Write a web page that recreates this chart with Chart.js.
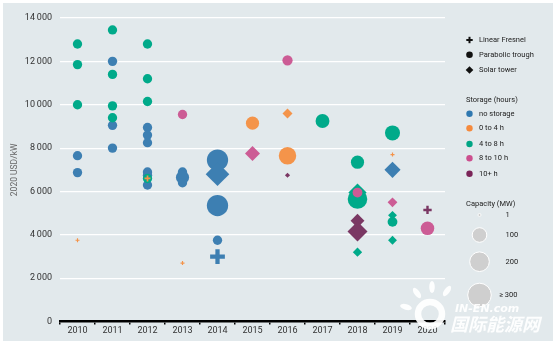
<!DOCTYPE html>
<html>
<head>
<meta charset="utf-8">
<script src="https://cdn.jsdelivr.net/npm/chart.js@4.4.1/dist/chart.umd.min.js"></script>
<style>
  body { margin: 0; background: #fff; }
  #wrap { position: relative; width: 560px; height: 343px; font-family: Roboto, "Open Sans", sans-serif; }
  #wrap canvas { position: absolute; left: 0; top: 0; }
  #ov { position: absolute; left: 0; top: 0; pointer-events: none; }
  .lg { position: absolute; font-size: 7.5px; color: #222; height: 10px; line-height: 10px; white-space: nowrap; }
  .wm { position: absolute; color: rgba(255,255,255,0.92); font-weight: bold; font-style: italic; white-space: nowrap; }
</style>
</head>
<body>
<div id="wrap">
  <canvas id="myChart"></canvas>
  <svg id="ov" width="560" height="343">
    <!-- technology markers -->
    <rect x="466.3" y="39" width="6.4" height="2" fill="#111"/>
    <rect x="468.5" y="36.8" width="2" height="6.4" fill="#111"/>
    <circle cx="469.5" cy="54.7" r="3.3" fill="#111"/>
    <polygon points="469.5,66.2 473.3,70 469.5,73.8 465.7,70" fill="#111"/>
    <!-- storage markers -->
    <circle cx="469.5" cy="113.7" r="3.2" fill="#2f78b0"/>
    <circle cx="469.5" cy="128.3" r="3.2" fill="#f58a3d"/>
    <circle cx="469.5" cy="144" r="3.2" fill="#00a584"/>
    <circle cx="469.5" cy="158.3" r="3.2" fill="#cc4f8e"/>
    <circle cx="469.5" cy="173.7" r="3.2" fill="#7a2458"/>
    <!-- capacity markers -->
    <circle cx="479.5" cy="215" r="1.5" fill="#cfcfcf" stroke="#fff" stroke-width="0.8"/>
    <circle cx="479.5" cy="235" r="7.3" fill="#cfcfcf" stroke="#fff" stroke-width="1"/>
    <circle cx="479.5" cy="261.7" r="9.8" fill="#cfcfcf" stroke="#fff" stroke-width="1"/>
    <circle cx="479.5" cy="295" r="11.8" fill="#cfcfcf" stroke="#fff" stroke-width="1"/>
    <!-- watermark logo -->
    <g fill="#fff" opacity="0.92">
      <circle cx="430" cy="314" r="12" fill="none" stroke="#fff" stroke-width="6.5"/>
      <ellipse cx="417" cy="293" rx="2.8" ry="6" transform="rotate(-35 417 293)"/>
      <ellipse cx="432" cy="287" rx="2.8" ry="6"/>
      <ellipse cx="447" cy="291" rx="2.8" ry="6" transform="rotate(35 447 291)"/>
      <ellipse cx="406" cy="307" rx="2.8" ry="6" transform="rotate(-75 406 307)"/>
    </g>
  </svg>
  <div class="lg" style="left:479px;top:35px">Linear Fresnel</div>
  <div class="lg" style="left:479px;top:49.7px">Parabolic trough</div>
  <div class="lg" style="left:479px;top:65px">Solar tower</div>
  <div class="lg" style="left:466px;top:95px">Storage (hours)</div>
  <div class="lg" style="left:479px;top:108.7px">no storage</div>
  <div class="lg" style="left:479px;top:123.3px">0 to 4 h</div>
  <div class="lg" style="left:479px;top:139px">4 to 8 h</div>
  <div class="lg" style="left:479px;top:153.3px">8 to 10 h</div>
  <div class="lg" style="left:479px;top:168.7px">10+ h</div>
  <div class="lg" style="left:466px;top:199px">Capacity (MW)</div>
  <div class="lg" style="left:505.5px;top:210px">1</div>
  <div class="lg" style="left:505.5px;top:230px">100</div>
  <div class="lg" style="left:505.5px;top:256.7px">200</div>
  <div class="lg" style="left:499px;top:290px">≥ 300</div>
  <div class="wm" style="left:455px;top:302px;font-size:11px;font-family:'DejaVu Sans',sans-serif">IN-EN.com</div>
  <div class="wm" style="left:450px;top:313px;font-size:18px;line-height:20px;font-family:'Noto Sans CJK SC',sans-serif">国际能源网</div>
</div>
<script>
const years = ['2010','2011','2012','2013','2014','2015','2016','2017','2018','2019','2020']
const yTicks = [0,2000,4000,6000,8000,10000,12000,14000]

// no storage
const noneYear = ['2010','2010','2011','2011','2011','2012','2012','2012','2012','2012','2012','2013','2013','2013','2014','2014','2014','2014','2014','2019']
const noneCost = [7650,6870,12000,9050,8000,8950,8600,8250,6900,6750,6300,6900,6650,6400,7450,6800,5350,3750,3000,7000]
const noneMW   = [50,50,50,50,50,50,50,50,50,50,50,50,100,50,260,320,260,50,125,150]
const noneTech = ['trough','trough','trough','trough','trough','trough','trough','trough','trough','trough','trough','trough','trough','trough','trough','tower','trough','trough','fresnel','tower']

// 0 to 4 h
const shortYear = ['2010','2012','2013','2015','2016','2016','2019']
const shortCost = [3750,6600,2700,9150,9600,7650,7700]
const shortMW   = [1,20,1,100,57,175,1]
const shortTech = ['fresnel','fresnel','fresnel','trough','tower','trough','fresnel']

// 4 to 8 h
const midYear = ['2010','2010','2010','2011','2011','2011','2011','2012','2012','2012','2012','2017','2018','2018','2018','2018','2019','2019','2019','2019']
const midCost = [12800,11850,10000,13450,11400,9950,9400,12800,11200,10150,6600,9250,7350,5950,5650,3200,8700,4900,4600,3750]
const midMW   = [50,50,50,50,50,50,50,50,50,50,50,110,100,190,220,50,130,45,55,45]
const midTech = ['trough','trough','trough','trough','trough','trough','trough','trough','trough','trough','trough','trough','trough','tower','trough','tower','trough','tower','trough','tower']

// 8 to 10 h
const longYear = ['2013','2015','2016','2018','2019','2020']
const longCost = [9550,7750,12050,5950,5500,4300]
const longMW   = [50,130,60,55,55,105]
const longTech = ['trough','tower','trough','trough','tower','trough']

// 10+ h
const xlYear = ['2016','2018','2018','2018','2020']
const xlCost = [6750,4650,4150,4500,5150]
const xlMW   = [15,110,230,10,40]
const xlTech = ['tower','tower','tower','tower','fresnel']

const shapes = { trough: 'circle', tower: 'rectRot', fresnel: 'cross' }

// marker radius from capacity
const rad = (mw)=> Math.max(2, 0.66*Math.sqrt(mw))

const makeSet = (label, color, yrs, cost, mw, tech, order)=>({
    label: label,
    order: order,
    data: yrs.map((y,i)=> ({ x: y, y: cost[i], r: rad(mw[i]) })),
    backgroundColor: color,
    borderColor: color,
    pointStyle: (ctx)=> shapes[tech[ctx.dataIndex]] || 'circle',
    borderWidth: (ctx)=> (tech[ctx.dataIndex] === 'fresnel' && ctx.raw) ? ctx.raw.r*0.58 : 0
})

const panelBg = {
    id: 'panelBg',
    beforeDraw(chart){
        const c = chart.ctx
        c.save()
        c.fillStyle = '#fff'
        c.fillRect(0,0,chart.width,chart.height)
        c.fillStyle = '#e2e9ec'
        c.fillRect(3,3,550,338)
        c.restore()
    }
}

const fmt = (v)=> v >= 1000 ? Math.floor(v/1000) + '\u2009' + String(v%1000).padStart(3,'0') : String(v)

const ctx = document.getElementById('myChart')

new Chart(ctx, {
    type: 'bubble',
    data: {
        labels: years,
        datasets: [
            makeSet('no storage', '#3d7fb2', noneYear, noneCost, noneMW, noneTech, 5),
            makeSet('0 to 4 h', '#f4944a', shortYear, shortCost, shortMW, shortTech, 2),
            makeSet('4 to 8 h', '#00aa8a', midYear, midCost, midMW, midTech, 4),
            makeSet('8 to 10 h', '#cc5c95', longYear, longCost, longMW, longTech, 3),
            makeSet('10+ h', '#7a3763', xlYear, xlCost, xlMW, xlTech, 1)
        ]
    },
    options: {
        responsive: true,
        maintainAspectRatio: false,
        animation: false,
        events: [],
        layout: { padding: { left: 3, right: 115, top: 18, bottom: 0 } },
        plugins: { legend: { display: false }, tooltip: { enabled: false } },
        scales: {
            x: {
                type: 'category',
                labels: years,
                offset: true,
                grid: { offset: true, drawOnChartArea: false, drawTicks: true, tickLength: 3, color: '#000', lineWidth: 1.5 },
                border: { display: true, color: '#000', width: 2.5 },
                ticks: { font: { family: 'Roboto', size: 9 }, color: '#333', padding: 1, maxRotation: 0 },
                afterFit: (s)=> { s.height = 21.4 }
            },
            y: {
                min: 0,
                max: 14000,
                afterBuildTicks: (s)=> { s.ticks = yTicks.map(v=> ({ value: v })) },
                grid: { color: '#fff', lineWidth: 1.2, drawTicks: false },
                border: { display: false },
                ticks: { font: { family: 'Roboto', size: 9 }, color: '#333', padding: 8, callback: (v)=> fmt(v) },
                title: { display: true, text: '2020 USD/kW', font: { family: 'Roboto', size: 8.5 }, color: '#666', padding: { top: 7, bottom: 0 } },
                afterFit: (s)=> { s.width = 57 }
            }
        }
    },
    plugins: [panelBg]
})
</script>
</body>
</html>
